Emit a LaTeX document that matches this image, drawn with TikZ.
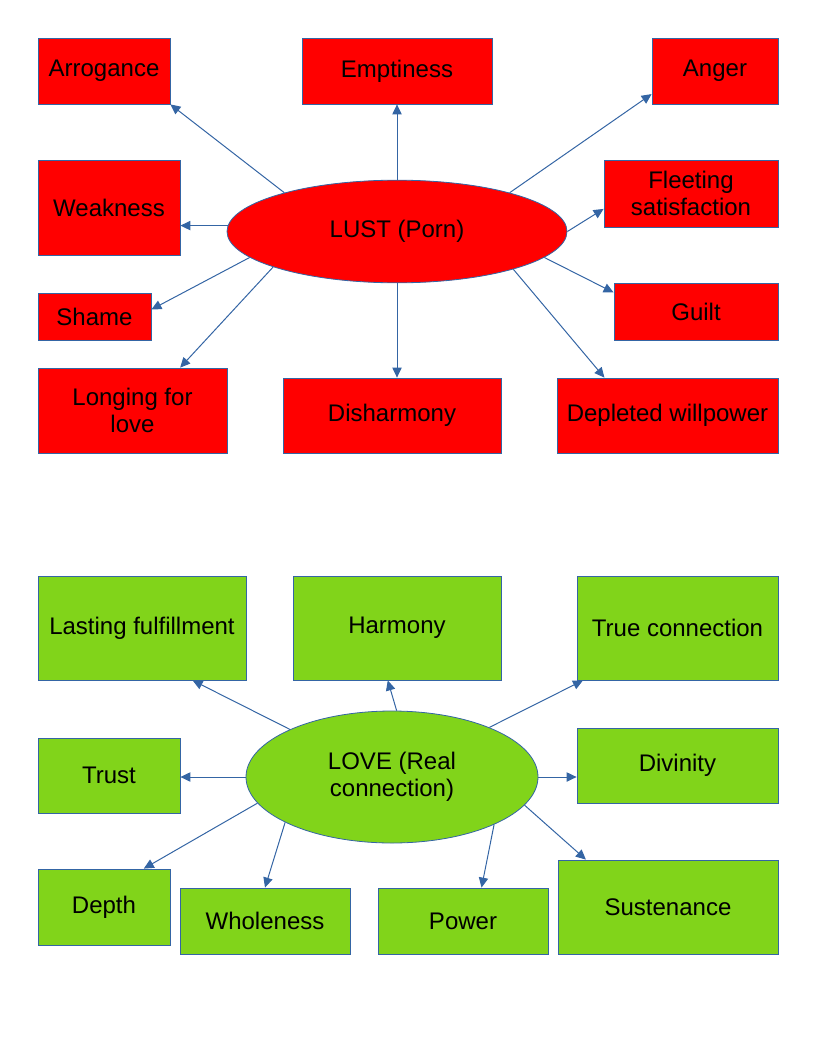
\documentclass[tikz,border=0pt]{standalone}
\usepackage{fontspec}
\setmainfont{Liberation Sans}
\usetikzlibrary{arrows.meta,shapes.geometric}
\definecolor{lustred}{HTML}{FF0000}
\definecolor{lovegreen}{HTML}{81D41A}
\definecolor{linkblue}{HTML}{3465A4}
\tikzset{
	boxtext/.style={inner sep=0pt, align=center, font={\fontsize{18}{20}\selectfont}},
	lustbox/.style={boxtext, draw=linkblue, line width=0.6pt, fill=lustred},
	lovebox/.style={boxtext, draw=linkblue, line width=0.6pt, fill=lovegreen},
	link/.style={draw=linkblue, line width=0.75pt, -{Triangle[length=7.5pt,width=7pt]}}
}
% box from its two corners, in pixels
\def\cornerbox[#1](#2)(#3,#4)(#5,#6)#7{\node[#1, minimum width={(#5-#3)*0.75pt}, minimum height={(#6-#4)*0.75pt}] (#2) at ({(#3+#5)/2},{(#4+#6)/2}) {#7};}

\begin{document}
\begin{tikzpicture}[x=0.75pt, y=-0.75pt]
		%%%%% START %%%%%
		\useasboundingbox (0,0) rectangle (816,1056);
		
		% lust
		\node[lustbox, ellipse, minimum width=255pt, minimum height=77pt] (lust) at (397,231.5) {LUST (Porn)};
		
		\cornerbox[lustbox](arrog)(38,38)(170,104){Arrogance}
		\cornerbox[lustbox](empt)(302,38)(492,104){Emptiness}
		\cornerbox[lustbox](anger)(652,38)(778,104){Anger}
		\cornerbox[lustbox](weak)(38,160)(180,255){Weakness}
		\cornerbox[lustbox](fleet)(604,160)(778,227){Fleeting\\satisfaction}
		\cornerbox[lustbox](shame)(38,293)(151,340){Shame}
		\cornerbox[lustbox](guilt)(614,283)(778,340){Guilt}
		\cornerbox[lustbox](longing)(38,368)(227,453){Longing for\\love}
		\cornerbox[lustbox](disharm)(283,378)(501,453){Disharmony}
		\cornerbox[lustbox](depl)(557,378)(778,453){Depleted willpower}
		
		\draw[link] (lust.161) -- (arrog.south east);
		\draw[link] (lust.north) -- (lust.north |- empt.south);
		\draw[link] (lust.19) -- (anger.200);
		\draw[link] (lust.178) -- (weak.east |- lust.178);
		\draw[link] (lust.east) -- (fleet.190);
		\draw[link] (lust.350) -- (guilt.167);
		\draw[link] (lust.342) -- (depl.149);
		\draw[link] (lust.south) -- (lust.south |- disharm.north);
		\draw[link] (lust.190) -- (shame.7);
		\draw[link] (lust.196) -- (longing.42);
		
		% love
		\node[lovebox, ellipse, minimum width=219pt, minimum height=99pt] (love) at (392,777) {LOVE (Real\\connection)};
		
		\cornerbox[lovebox](lasting)(38,576)(246,680){Lasting fulfillment}
		\cornerbox[lovebox](harm)(293,576)(501,680){Harmony}
		\cornerbox[lovebox](trueconn)(577,576)(778,680){True connection}
		\cornerbox[lovebox](trust)(38,738)(180,813){Trust}
		\cornerbox[lovebox](divin)(577,728)(778,803){Divinity}
		\cornerbox[lovebox](depth)(38,869)(170,945){Depth}
		\cornerbox[lovebox](whole)(180,888)(350,954){Wholeness}
		\cornerbox[lovebox](power)(378,888)(548,954){Power}
		\cornerbox[lovebox](sust)(558,860)(778,954){Sustenance}
		
		\draw[link] (love.155) -- (lasting.314);
		\draw[link] (love.86) -- (harm.260);
		\draw[link] (love.27) -- (trueconn.209);
		\draw[link] (love.west) -- (trust.east |- love.west);
		\draw[link] (love.east) -- (divin.west |- love.east);
		\draw[link] (love.191) -- (depth.44);
		\draw[link] (love.203) -- (whole.north);
		\draw[link] (love.335) -- (power.61);
		\draw[link] (love.348) -- (sust.150);
		
		%%%%% END %%%%%
\end{tikzpicture}
\end{document}
